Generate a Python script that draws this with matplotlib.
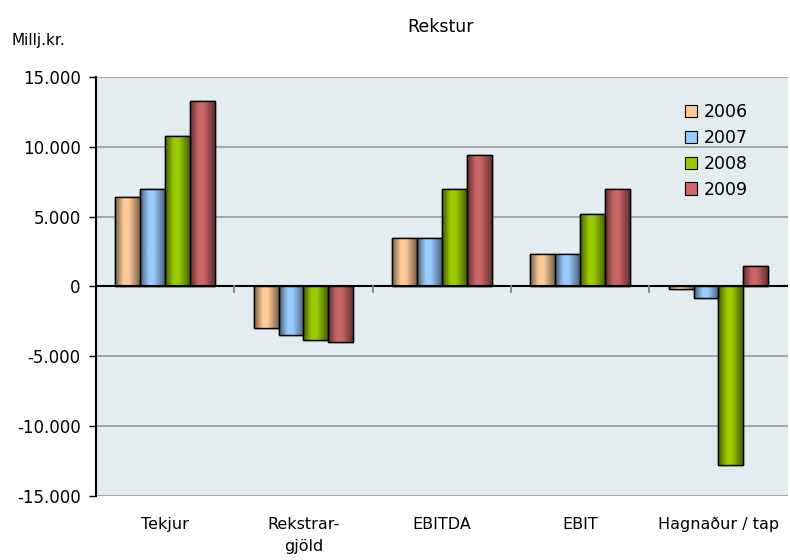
import numpy as np
import matplotlib
matplotlib.use("Agg")
import matplotlib.pyplot as plt
from matplotlib.colors import to_rgb, LinearSegmentedColormap
from matplotlib.patches import Patch

categories = ["Tekjur", "Rekstrar-\ngjöld", "EBITDA", "EBIT", "Hagnaður / tap"]
years = ["2006", "2007", "2008", "2009"]
v2006 = [6400, -2950, 3500, 2300, -200]
v2007 = [6950, -3500, 3500, 2300, -800]
v2008 = [10800, -3850, 7000, 5200, -12800]
v2009 = [13300, -4000, 9400, 6950, 1500]
colors = ["#FFCC99", "#99CCFF", "#99CC00", "#CC6666"]
yticks = [-15000, -10000, -5000, 0, 5000, 10000, 15000]
ytick_labels = ["-15.000", "-10.000", "-5.000", "0", "5.000", "10.000", "15.000"]

plt.rcParams['font.family'] = ['DejaVu Sans']
fig = plt.figure(figsize=(7.9, 5.6), dpi=100)
ax = fig.add_axes([0.1215, 0.1143, 0.8755, 0.7482])
ax.set_facecolor("#E3ECEE")

series = [v2006, v2007, v2008, v2009]
x = np.arange(len(categories))
w = 0.18
ax.set_xlim(-0.5, len(categories) - 0.5)
ax.set_ylim(-15000, 15000)

for g in yticks:
    if g != 0:
        ax.axhline(g, color="#A0A0A0", lw=1.3, zorder=1)

for i, (vals, c) in enumerate(zip(series, colors)):
    pos = x + (i - 1.5) * w
    bars = ax.bar(pos, vals, width=w, color=c, edgecolor="black", lw=1.0, zorder=3)
    rgb = np.array(to_rgb(c))
    dark = rgb * 0.45
    cmap = LinearSegmentedColormap.from_list("g", [(0, dark), (0.35, rgb), (0.55, rgb), (1, dark * 1.1)])
    grad = np.linspace(0, 1, 64).reshape(1, -1)
    for b in bars:
        x0 = b.get_x(); y0 = b.get_y(); bw = b.get_width(); bh = b.get_height()
        im = ax.imshow(grad, cmap=cmap, extent=[x0, x0 + bw, min(y0, y0 + bh), max(y0, y0 + bh)],
                       aspect="auto", zorder=3.5, interpolation="bicubic")
        im.set_clip_path(b)
    ax.bar(pos, vals, width=w, fill=False, edgecolor="black", lw=1.0, zorder=4)

ax.axhline(0, color="black", lw=1.5, zorder=5)
for b in np.arange(0.5, len(categories) - 0.5, 1):
    ax.plot([b, b], [0, -400], color="#808080", lw=1.3, zorder=5, clip_on=False)

ax.set_xlim(-0.5, len(categories) - 0.5)
ax.set_ylim(-15000, 15000)
ax.set_yticks(yticks)
ax.set_yticklabels(ytick_labels, fontsize=12)
ax.set_xticks(x)
ax.set_xticklabels(categories, fontsize=11.5, linespacing=1.6)
ax.tick_params(axis="x", length=0, pad=15)
ax.tick_params(axis="y", length=5, width=1, direction="out", pad=6)
for s in ["top", "right", "bottom"]:
    ax.spines[s].set_visible(False)
ax.spines["left"].set_linewidth(1.5)

handles = [Patch(facecolor=c, edgecolor="black", lw=0.8) for c in colors]
ax.legend(handles, years, loc="upper right", bbox_to_anchor=(0.965, 0.975), frameon=False,
          fontsize=12.5, handlelength=0.7, handleheight=0.7, handletextpad=0.4, labelspacing=0.45)

fig.text(0.557, 0.952, "Rekstur", ha="center", va="center", fontsize=12.5)
fig.text(0.015, 0.928, "Millj.kr.", ha="left", va="center", fontsize=11)

fig.savefig("out.png", dpi=100)
